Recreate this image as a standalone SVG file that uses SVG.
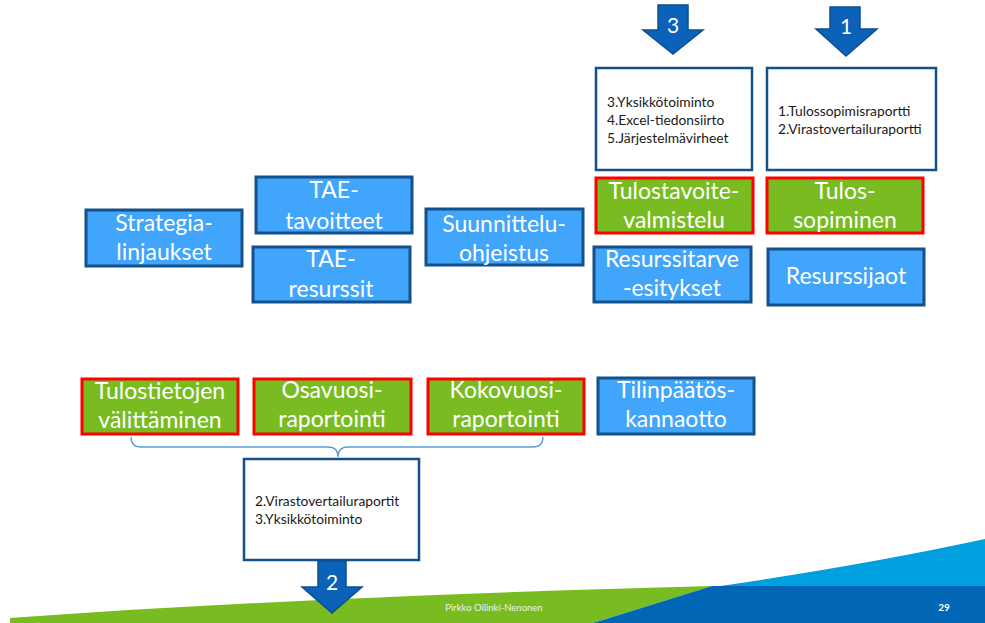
<svg xmlns="http://www.w3.org/2000/svg" width="985" height="623" viewBox="0 0 985 623">
<style>
.bl{fill:#41a5fb;stroke:#14508c;stroke-width:3}
.gr{fill:#78bc22;stroke:#ff0000;stroke-width:3}
.wh{fill:#ffffff;stroke:#14508c;stroke-width:2.5}
.lt{font-family:Lato,"Liberation Sans",sans-serif;font-size:23px;fill:#ffffff;text-anchor:middle}
.sm{font-family:Lato,"Liberation Sans",sans-serif;font-size:13.8px;fill:#1a1a1a}
.ar{fill:#0b62b8;stroke:#0c4f91;stroke-width:1.5}
.num{font-family:Lato,"Liberation Sans",sans-serif;font-size:21px;fill:#ffffff;text-anchor:middle}
</style>
<g id="footer">
<path d="M10,623 L10,618 Q300,597 712,586 L593,623 Z" fill="#78bc22"/>
<path d="M706,588 Q860,566 985,539 L985,588 Z" fill="#009fdf"/>
<path d="M593,623 L712,586 L985,586 L985,623 Z" fill="#0066b5"/>
<text x="494" y="611" font-family="Lato,'Liberation Sans',sans-serif" font-size="9.5px" fill="#eef3e6" text-anchor="middle">Pirkko Oilinki-Nenonen</text>
<text x="944" y="611" font-family="Lato,'Liberation Sans',sans-serif" font-size="10px" font-weight="bold" fill="#ffffff" text-anchor="middle">29</text>
</g>
<g id="connectors">
<path d="M131,437 Q131,447 141,447 L328,447 Q338,447 338,457 Q338,447 348,447 L533,447 Q543,447 543,437" fill="none" stroke="#5b9bd5" stroke-width="1.3"/>
</g>
<g id="arrow3"><polygon class="ar" points="658,5 688,5 688,30 703,30 673,54 643,30 658,30"/><text class="num" x="673" y="33">3</text></g>
<g id="arrow1"><polygon class="ar" points="830,7 860,7 860,29 877,29 846,56 816,29 830,29"/><text class="num" x="846" y="34">1</text></g>
<g id="box3"><rect class="wh" x="596" y="68" width="156" height="102"/>
<text class="sm" x="607" y="107">3.Yksikkötoiminto</text><text class="sm" x="607" y="125">4.Excel-tiedonsiirto</text><text class="sm" x="607" y="143">5.Järjestelmävirheet</text></g>
<g id="box1"><rect class="wh" x="767" y="68" width="169" height="102"/>
<text class="sm" x="778" y="116">1.Tulossopimisraportti</text><text class="sm" x="778" y="134">2.Virastovertailuraportti</text></g>
<g id="strategia"><rect class="bl" x="86" y="210" width="156" height="56"/><text class="lt" x="164" y="231">Strategia-</text><text class="lt" x="164" y="260">linjaukset</text></g>
<g id="taetavoitteet"><rect class="bl" x="256" y="177" width="156" height="56"/><text class="lt" x="334" y="198">TAE-</text><text class="lt" x="334" y="229">tavoitteet</text></g>
<g id="taeresurssit"><rect class="bl" x="253" y="247" width="157" height="55"/><text class="lt" x="331" y="267">TAE-</text><text class="lt" x="331" y="297">resurssit</text></g>
<g id="suunnittelu"><rect class="bl" x="426" y="209" width="157" height="56"/><text class="lt" x="504" y="232">Suunnittelu-</text><text class="lt" x="504" y="261">ohjeistus</text></g>
<g id="tulostavoite"><rect class="gr" x="596" y="178" width="157" height="55"/><text class="lt" x="674" y="199">Tulostavoite-</text><text class="lt" x="674" y="228">valmistelu</text></g>
<g id="tulossopiminen"><rect class="gr" x="767" y="178" width="156" height="55"/><text class="lt" x="845" y="199">Tulos-</text><text class="lt" x="845" y="228">sopiminen</text></g>
<g id="resurssitarve"><rect class="bl" x="594" y="247" width="157" height="55"/><text class="lt" x="672" y="267">Resurssitarve</text><text class="lt" x="672" y="296">-esitykset</text></g>
<g id="resurssijaot"><rect class="bl" x="768" y="249" width="156" height="56"/><text class="lt" x="846" y="284">Resurssijaot</text></g>
<g id="tulostietojen"><rect class="gr" x="82" y="379" width="156" height="55"/><text class="lt" x="160" y="399">Tulostietojen</text><text class="lt" x="160" y="428">välittäminen</text></g>
<g id="osavuosi"><rect class="gr" x="254" y="379" width="157" height="55"/><text class="lt" x="332" y="398">Osavuosi-</text><text class="lt" x="332" y="427">raportointi</text></g>
<g id="kokovuosi"><rect class="gr" x="428" y="379" width="156" height="55"/><text class="lt" x="506" y="398">Kokovuosi-</text><text class="lt" x="506" y="427">raportointi</text></g>
<g id="tilinpaatos"><rect class="bl" x="598" y="378" width="156" height="56"/><text class="lt" x="676" y="398">Tilinpäätös-</text><text class="lt" x="676" y="427">kannaotto</text></g>
<g id="box2"><rect class="wh" x="244" y="459" width="175" height="101"/>
<text class="sm" x="255" y="506">2.Virastovertailuraportit</text><text class="sm" x="255" y="524">3.Yksikkötoiminto</text></g>
<g id="arrow2"><polygon class="ar" points="318,561 346,561 346,587 362,587 332,613 302,587 318,587"/><text class="num" x="332" y="590">2</text></g>
</svg>
